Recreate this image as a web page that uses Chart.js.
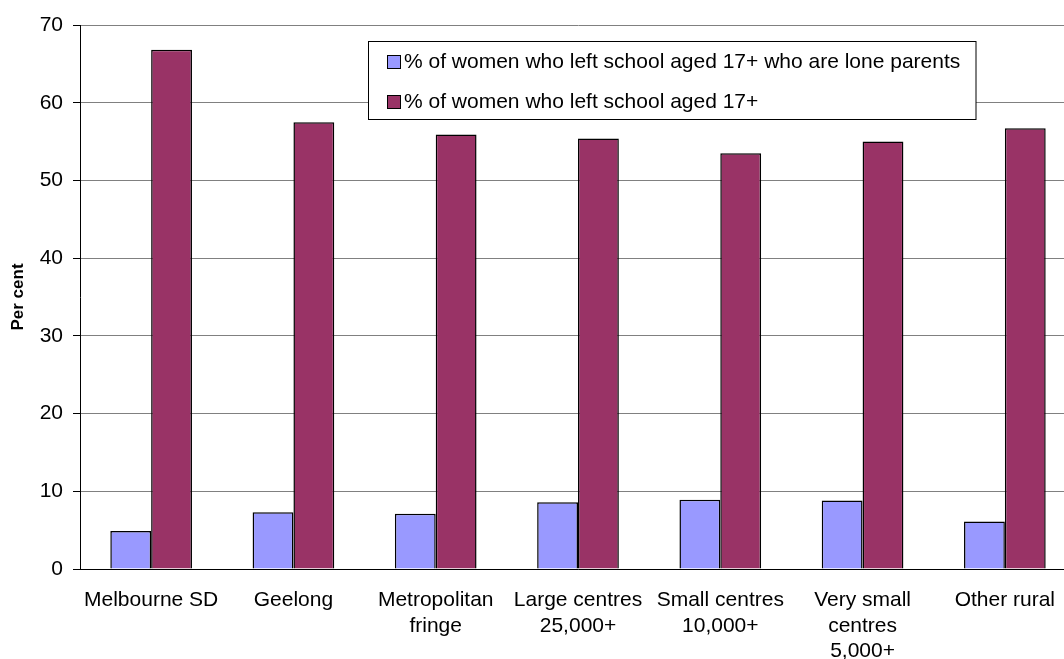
<!DOCTYPE html>
<html>
  <head>
    <script src="https://cdn.jsdelivr.net/npm/chart.js@4.4.1/dist/chart.umd.min.js"></script>
    <style>
      html, body { margin: 0; padding: 0; overflow: hidden; background: #fff; }
    </style>
  </head>

  <body>
    <canvas id="canvas" width="1076" height="659"></canvas>
    <script>
      const categories = [
        'Melbourne SD',
        'Geelong',
        ['Metropolitan', 'fringe'],
        ['Large centres', '25,000+'],
        ['Small centres', '10,000+'],
        ['Very small', 'centres', '5,000+'],
        'Other rural',
      ];
      const loneParents = [4.9, 7.3, 7.1, 8.6, 8.9, 8.8, 6.1];
      const leftSchool17 = [66.8, 57.5, 55.9, 55.4, 53.5, 55.0, 56.7];
      const seriesNames = [
        '% of women who left school aged 17+ who are lone parents',
        '% of women who left school aged 17+',
      ];

      const FONT = '"Liberation Sans", Arial, sans-serif';

      // legend box sitting inside the plot, like the original
      const boxLegend = {
        id: 'boxLegend',
        afterDraw(chart) {
          const ctx = chart.ctx;
          const x = 368.5, y = 41.5, w = 607.5, h = 78;
          ctx.save();
          ctx.fillStyle = '#fff';
          ctx.fillRect(x, y, w, h);
          ctx.strokeStyle = '#000';
          ctx.lineWidth = 1;
          ctx.strokeRect(x, y, w, h);
          ctx.font = '21px ' + FONT;
          ctx.textBaseline = 'middle';
          chart.data.datasets.forEach((ds, i) => {
            const cy = 62 + i * 40;
            ctx.fillStyle = ds.backgroundColor;
            ctx.fillRect(387.5, cy - 6.5, 13, 13);
            ctx.strokeRect(387.5, cy - 6.5, 13, 13);
            ctx.fillStyle = '#000';
            ctx.fillText(ds.label, 404, cy);
          });
          ctx.restore();
        },
      };

      new Chart(document.getElementById('canvas').getContext('2d'), {
        type: 'bar',
        data: {
          labels: categories,
          datasets: [
            {
              label: seriesNames[0],
              data: loneParents,
              backgroundColor: '#9999FF',
              borderColor: '#000',
              borderWidth: 1.5,
            },
            {
              label: seriesNames[1],
              data: leftSchool17,
              backgroundColor: '#993366',
              borderColor: '#000',
              borderWidth: 1.5,
            },
          ],
        },
        options: {
          responsive: false,
          animation: false,
          devicePixelRatio: 1,
          layout: { padding: { top: 25, right: 0, left: 0, bottom: 0 } },
          datasets: {
            bar: { barPercentage: 1, categoryPercentage: 0.574 },
          },
          plugins: {
            legend: { display: false },
            tooltip: { enabled: false },
          },
          scales: {
            x: {
              grid: { display: false, drawTicks: false },
              border: { color: '#000', width: 1 },
              ticks: {
                color: '#000',
                font: { family: FONT, size: 21, lineHeight: 1.2 },
                padding: 19,
                maxRotation: 0,
                autoSkip: false,
              },
              afterFit(scale) { scale.height = 90; },
            },
            y: {
              min: 0,
              max: 70,
              ticks: {
                stepSize: 10,
                color: '#000',
                font: { family: FONT, size: 21 },
                padding: 10,
              },
              grid: {
                color: '#808080',
                tickColor: '#000',
                tickLength: 7,
              },
              border: { color: '#000', width: 1 },
              title: {
                display: true,
                text: 'Per cent',
                color: '#000',
                font: { family: FONT, size: 17, weight: 'bold' },
                padding: { top: 8, bottom: 0 },
              },
              afterFit(scale) { scale.width = 80; },
            },
          },
        },
        plugins: [boxLegend],
      });
    </script>
  </body>
</html>
